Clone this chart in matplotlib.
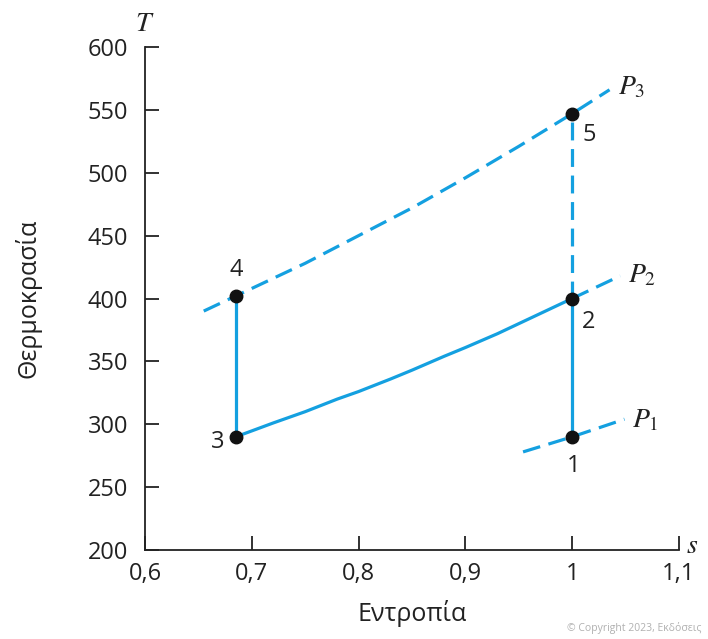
import matplotlib
matplotlib.use("Agg")
import matplotlib.pyplot as plt

plt.rcParams['font.family'] = ['Open Sans', 'DejaVu Sans']
plt.rcParams['mathtext.fontset'] = 'stix'

blue = '#14a0e0'

# state points (entropy, temperature)
pt_s = [1.0, 1.0, 0.685, 0.685, 1.0]
pt_T = [290, 400, 290, 402, 547]
pt_lab = ['1', '2', '3', '4', '5']

# isobar P3 (dashed)
p3_s = [0.655, 0.685, 0.72, 0.75, 0.80, 0.85, 0.90, 0.95, 1.0, 1.035]
p3_T = [390, 402, 416, 428, 450, 472, 496, 521, 547, 566]
# isobar P2 between 3 and 2 (solid) and its extension (dashed)
p2_s = [0.685, 0.72, 0.75, 0.78, 0.80, 0.83, 0.85, 0.88, 0.90, 0.93, 0.95, 0.98, 1.0]
p2_T = [290, 301, 310, 320, 326, 336, 343, 354, 361, 372, 380, 392, 400]
p2x_s = [1.0, 1.045]
p2x_T = [400, 418]
# isobar P1 (dashed)
p1_s = [0.954, 1.0, 1.049]
p1_T = [278, 290, 304]

xticks = [0.6, 0.7, 0.8, 0.9, 1.0, 1.1]
xlabels = ['0,6', '0,7', '0,8', '0,9', '1', '1,1']
yticks = [200, 250, 300, 350, 400, 450, 500, 550, 600]

fig = plt.figure(figsize=(7.08, 6.39), dpi=100)
ax = fig.add_axes([0.2048, 0.1393, 0.7542, 0.7871])

dash = (5.6, 2.7)
l, = ax.plot(p3_s, p3_T, color=blue, lw=2.3)
l.set_dashes(dash)
ax.plot(p2_s, p2_T, color=blue, lw=2.3)
l, = ax.plot(p2x_s, p2x_T, color=blue, lw=2.3)
l.set_dashes(dash)
l, = ax.plot(p1_s, p1_T, color=blue, lw=2.3)
l.set_dashes(dash)
# vertical processes
ax.plot([pt_s[0], pt_s[1]], [pt_T[0], pt_T[1]], color=blue, lw=2.3)
ax.plot([pt_s[2], pt_s[3]], [pt_T[2], pt_T[3]], color=blue, lw=2.3)
l, = ax.plot([pt_s[1], pt_s[4]], [pt_T[1], pt_T[4]], color=blue, lw=2.3)
l.set_dashes(dash)

ax.plot(pt_s, pt_T, 'o', color='#111111', ms=9, zorder=5, clip_on=False)

offs = [(1, -21), (12, -17), (-13, -4), (0, 19), (12, -15)]
for s, T, lab, o in zip(pt_s, pt_T, pt_lab, offs):
    ax.annotate(lab, (s, T), xytext=o, textcoords='offset points',
                ha='center', va='center', fontsize=17, color='#222222')

ax.text(1.043, 568, r'$P_3$', fontsize=20, ha='left', va='center', color='#222222')
ax.text(1.052, 418, r'$P_2$', fontsize=20, ha='left', va='center', color='#222222')
ax.text(1.056, 303, r'$P_1$', fontsize=20, ha='left', va='center', color='#222222')

ax.set_xlim(0.6, 1.1)
ax.set_ylim(200, 600)
ax.set_xticks(xticks)
ax.set_xticklabels(xlabels)
ax.set_yticks(yticks)
ax.tick_params(direction='in', length=10, width=1.3, labelsize=17,
               colors='#222222')
ax.tick_params(axis='y', pad=12)
ax.tick_params(axis='x', pad=9)
for side in ['top', 'right']:
    ax.spines[side].set_visible(False)
for side in ['left', 'bottom']:
    ax.spines[side].set_linewidth(1.3)
    ax.spines[side].set_color('#222222')

ax.set_ylabel('Θερμοκρασία', fontsize=18, labelpad=33, color='#222222')
ax.set_xlabel('Εντροπία', fontsize=18, labelpad=10, color='#222222')
ax.text(0.6, 618, r'$T$', fontsize=20, ha='center', va='center', color='#222222')
ax.text(1.112, 203, r'$s$', fontsize=20, ha='center', va='center', color='#222222')

fig.text(0.801, 0.008, '© Copyright 2023, Εκδόσεις', fontsize=7.5,
         color='#b0b0b0', ha='left', va='bottom')

fig.savefig('out.png', dpi=100)
